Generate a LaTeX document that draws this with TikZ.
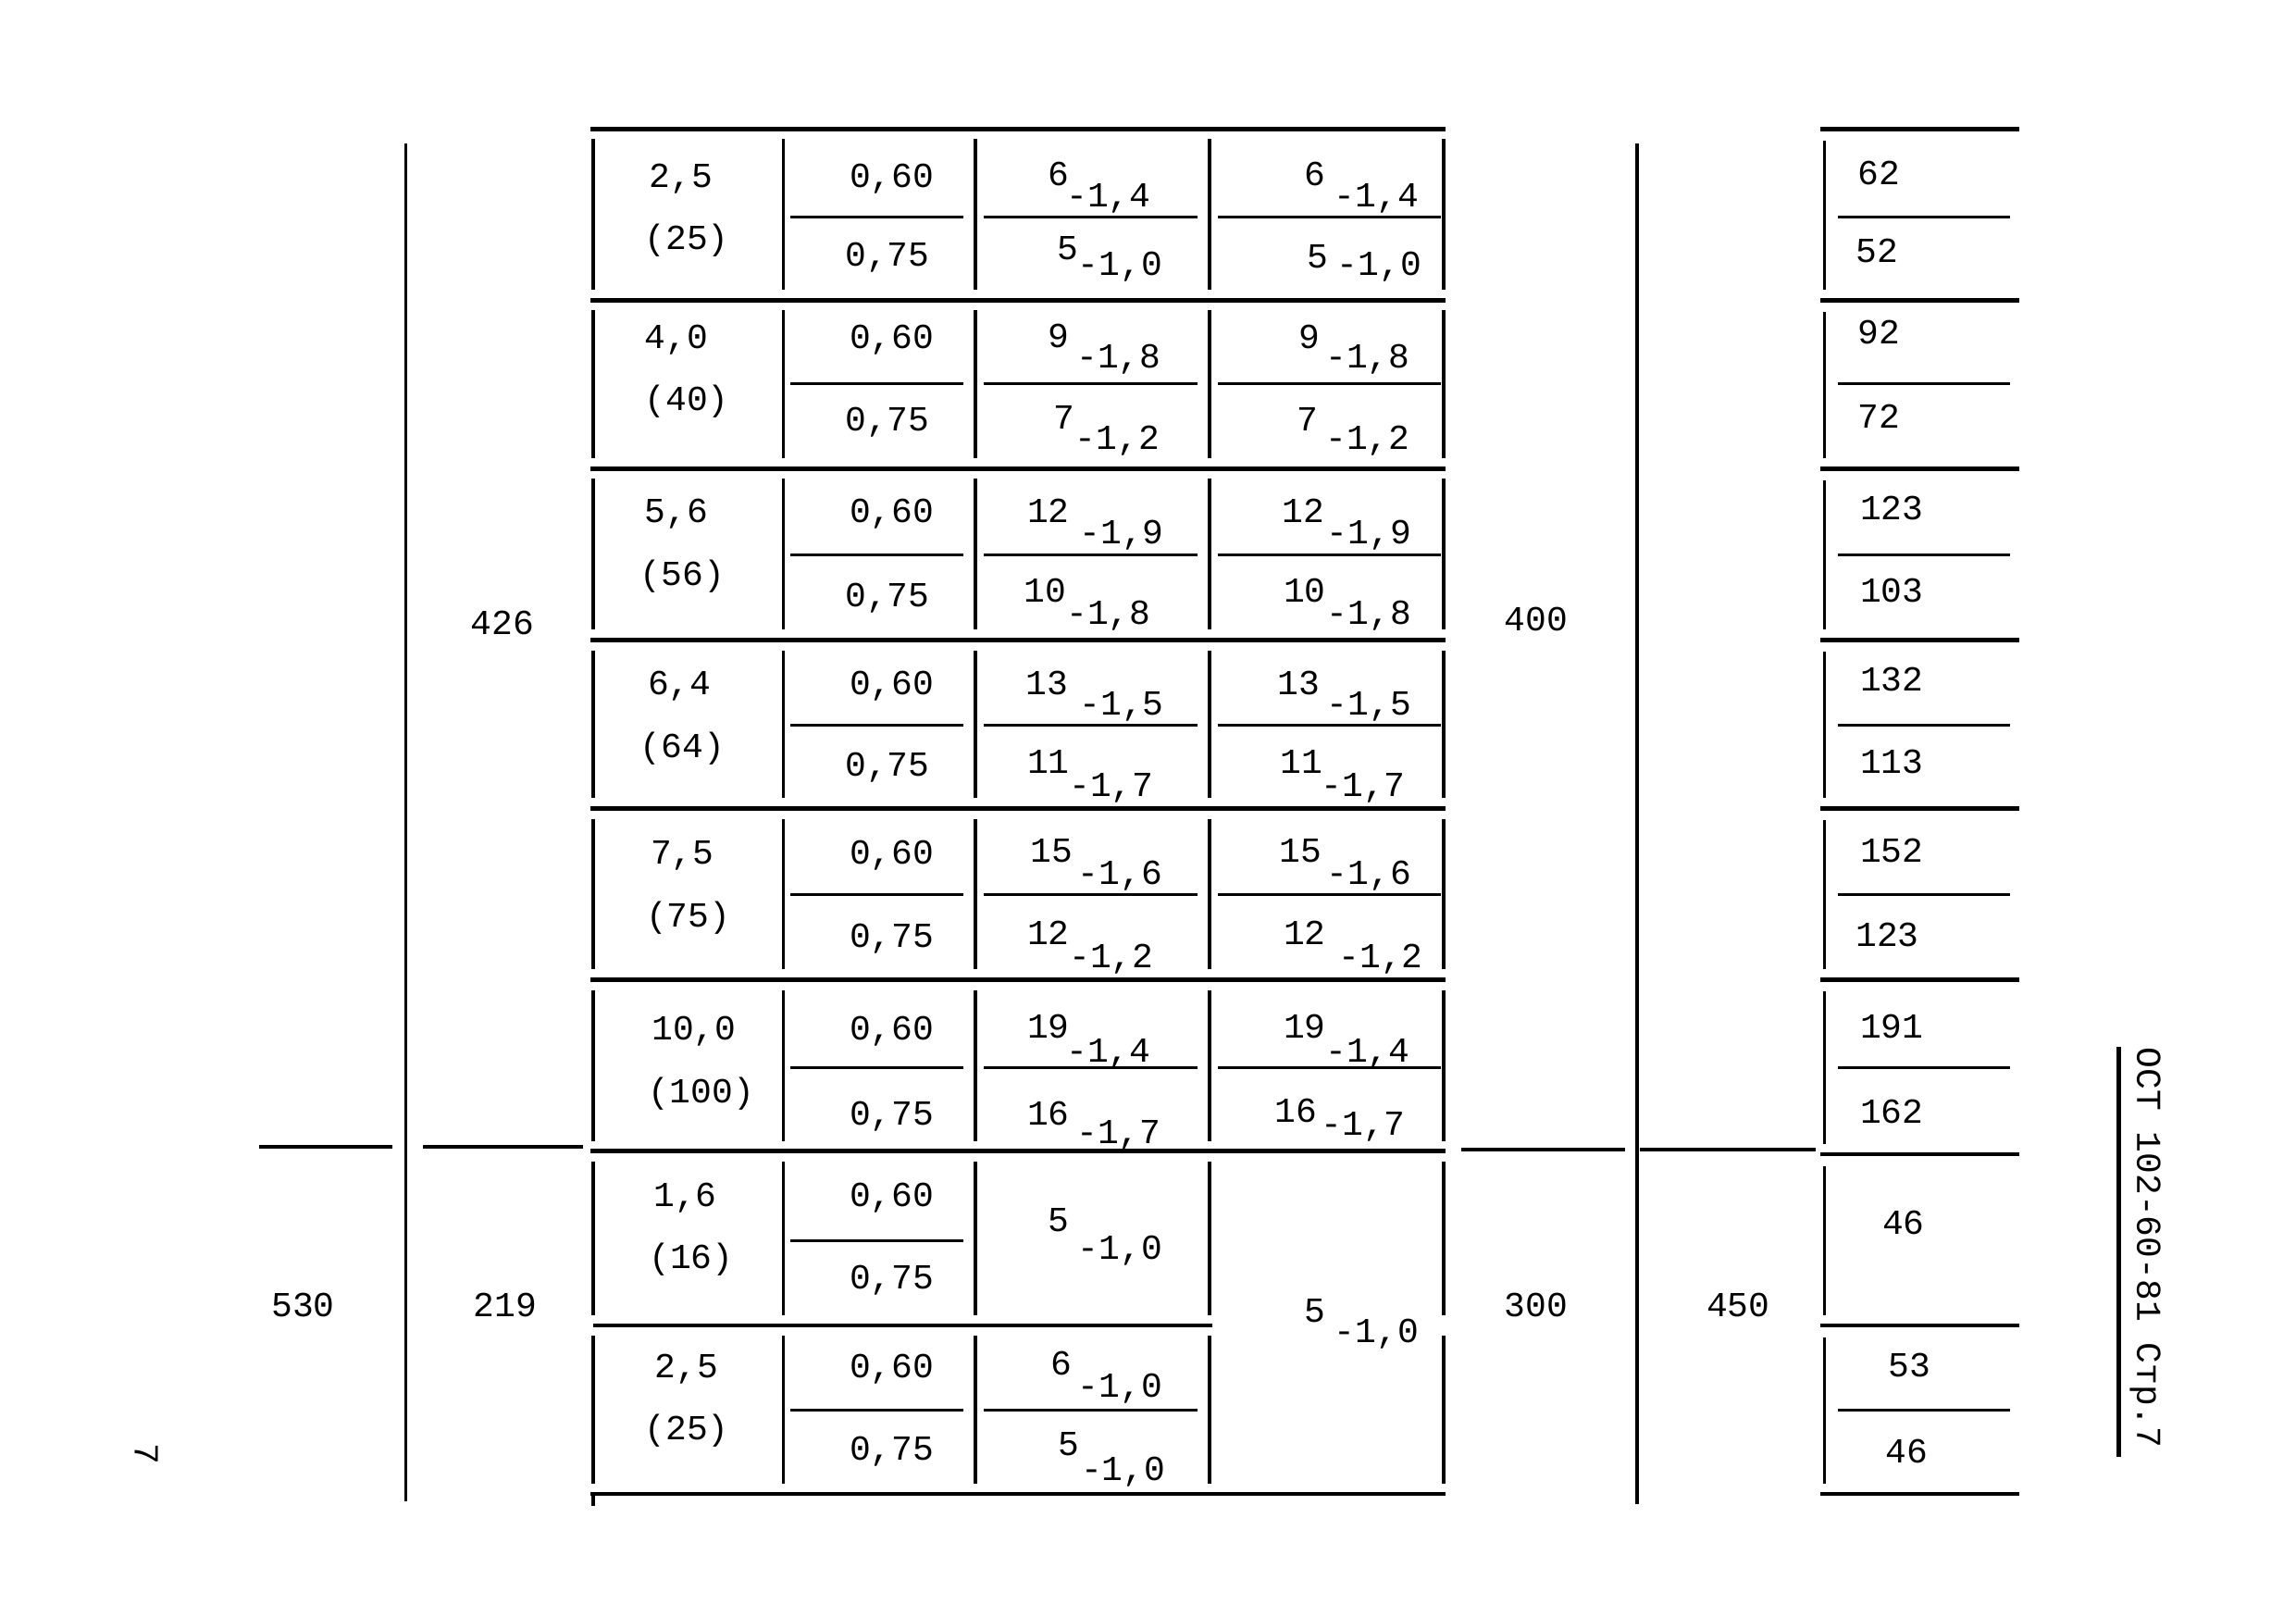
\documentclass[tikz,border=0pt]{standalone}
\usepackage{fontspec}
\newfontfamily\tfont{Liberation Mono}
\begin{document}
\begin{tikzpicture}[x=0.015823cm,y=-0.015823cm,
  txt/.style={font=\tfont\fontsize{10.8}{12}\selectfont, anchor=base, inner sep=0pt},
  rowline/.style={line width=1.3pt},
  subline/.style={line width=0.8pt},
  vline/.style={line width=1pt}]
\useasboundingbox (0,0) rectangle (1568,1104);

% long verticals
\draw[vline] (277,98) -- (277,1025);
\draw[vline] (1118,98) -- (1118,1027);
% horizontal pieces at the level of the split
\draw[rowline] (177,783) -- (268,783);
\draw[rowline] (289,783) -- (398,783);
\draw[rowline] (998,785) -- (1110,785);
\draw[rowline] (1120,785) -- (1240,785);

% main table row lines
\foreach \y in {88,205,320,437,552,669,786,1020}
  \draw[rowline] (403,\y) -- (987,\y);
\draw[rowline] (405,905) -- (828,905);
% sub lines
\foreach \y in {148,262,379,495,611,729,847,963}
  \draw[subline] (540,\y) -- (658,\y);
\foreach \y in {148,262,379,495,611,729,963}
  \draw[subline] (672,\y) -- (818,\y);
\foreach \y in {148,262,379,495,611,729}
  \draw[subline] (832,\y) -- (984,\y);
% main table verticals, row by row
\foreach \t/\b in {88/205,205/320,320/437,437/552,552/669,669/786,786/905,905/1020}
  \foreach \x in {405,535,666,826,986}
    \draw[vline] (\x,\t+7) -- (\x,\b-7);
\draw[vline] (405,1020) -- (405,1028);

% right table
\foreach \y in {88,205,320,437,552,669,788,905,1020}
  \draw[rowline] (1243,\y) -- (1379,\y);
\foreach \y in {148,262,379,495,611,729,963}
  \draw[subline] (1255,\y) -- (1373,\y);
\foreach \t/\b in {88/205,205/320,320/437,437/552,552/669,669/788,788/905,905/1020}
  \draw[vline] (1246,\t+8) -- (1246,\b-7);

% plain texts
\foreach \x/\y/\s [count=\i] in {
  465/128/{2,5}, 469/170/{(25)}, 462/238/{4,0}, 469/280/{(40)},
  462/357/{5,6}, 466/400/{(56)}, 464/474/{6,4}, 466/517/{(64)},
  466/590/{7,5}, 470/633/{(75)}, 474/710/{10,0}, 479/753/{(100)},
  468/824/{1,6}, 472/866/{(16)}, 469/941/{2,5}, 469/983/{(25)},
  609/128/{0,60}, 609/238/{0,60}, 609/357/{0,60}, 609/474/{0,60},
  609/590/{0,60}, 609/710/{0,60}, 609/824/{0,60}, 609/941/{0,60},
  606/182/{0,75}, 606/294/{0,75}, 606/414/{0,75}, 606/530/{0,75},
  609/647/{0,75}, 609/768/{0,75}, 609/880/{0,75}, 609/997/{0,75},
  1283/126/62, 1282/179/52, 1283/235/92, 1283/292/72,
  1292/355/123, 1292/411/103, 1292/472/132, 1292/528/113,
  1292/589/152, 1289/646/123, 1292/709/191, 1292/767/162,
  1300/843/46, 1304/940/53, 1302/999/46,
  343/433/426, 1049/431/400, 207/899/530, 345/899/219,
  1049/899/300, 1187/899/450}
  \node[txt] (p\i) at (\x,\y) {\s};

% values with tolerances
\foreach \mx/\my/\m/\sx/\sy/\s [count=\i] in {
  723/127/6/757/141/{-1,4}, 729/177/5/765/188/{-1,0},
  898/127/6/940/141/{-1,4}, 900/183/5/942/188/{-1,0},
  723/237/9/764/251/{-1,8}, 727/293/7/763/307/{-1,2},
  894/238/9/934/251/{-1,8}, 893/294/7/934/307/{-1,2},
  716/357/12/766/371/{-1,9}, 714/411/10/757/426/{-1,8},
  890/357/12/935/371/{-1,9}, 891/411/10/935/426/{-1,8},
  715/474/13/766/488/{-1,5}, 716/528/11/759/544/{-1,7},
  887/474/13/935/488/{-1,5}, 889/528/11/931/544/{-1,7},
  718/589/15/765/604/{-1,6}, 716/645/12/759/661/{-1,2},
  888/589/15/935/604/{-1,6}, 891/645/12/943/661/{-1,2},
  716/709/19/757/725/{-1,4}, 716/768/16/764/781/{-1,7},
  891/709/19/934/725/{-1,4}, 885/766/16/931/775/{-1,7},
  723/841/5/765/860/{-1,0}, 898/903/5/940/917/{-1,0},
  725/939/6/765/954/{-1,0}, 730/994/5/767/1011/{-1,0}}
{
  \node[txt] (m\i) at (\mx,\my) {\m};
  \node[txt] (s\i) at (\sx,\sy) {\s};
}

% margin texts
\node[txt, anchor=center, rotate=-90] (ost) at (1465,852) {ОСТ 102-60-81 Стр.7};
\draw[rowline] (1447,715) -- (1447,995);
\node[txt, anchor=center, rotate=-90] (pg) at (100,993) {7};
\end{tikzpicture}
\end{document}
